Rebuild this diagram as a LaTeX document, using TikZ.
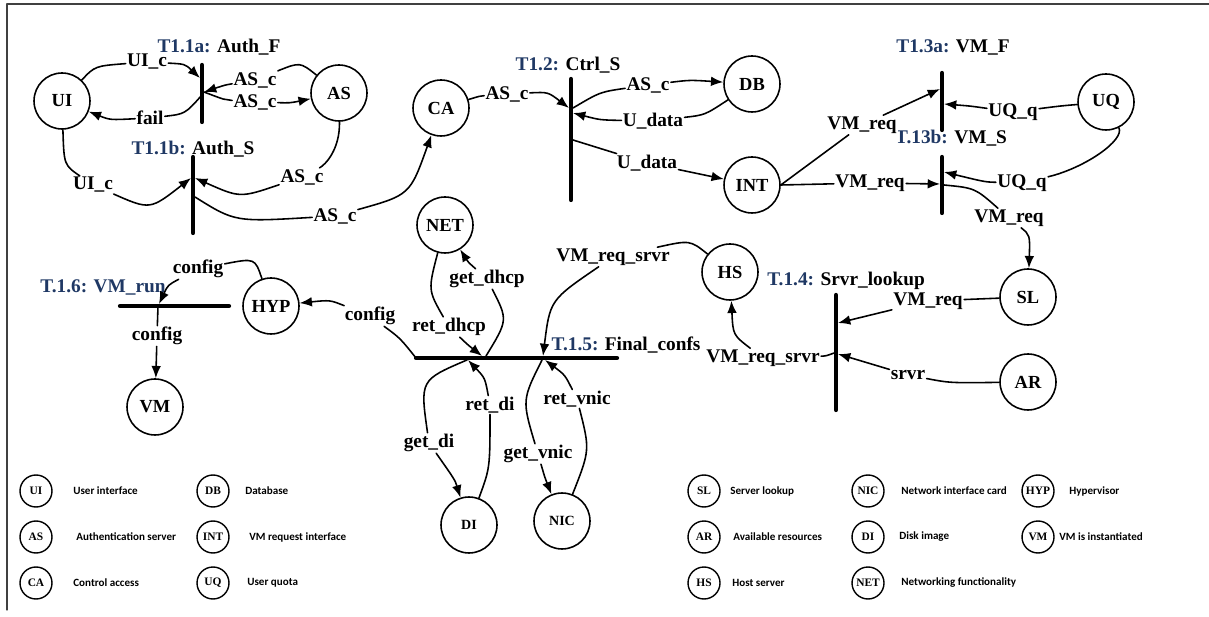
\documentclass[tikz,border=0pt]{standalone}
\usepackage{fontspec}
\setmainfont{Liberation Serif}[BoldFont={Liberation Serif Bold}]
\newfontfamily\legendfont{Carlito}[BoldFont={Carlito Bold}]
\usetikzlibrary{arrows.meta}
\definecolor{tblue}{RGB}{31,56,100}

\begin{document}
\begin{tikzpicture}[
        x=0.02cm, y=-0.02cm,
        line cap=round,
        line join=round,
        every node/.style={font=\bfseries\fontsize{11}{12}\selectfont},
        place/.style={circle, draw, line width=0.9pt, minimum size=1.12cm, inner sep=0pt,
            font=\bfseries\fontsize{10.5}{12}\selectfont},
        lbl/.style={fill=white, inner sep=0.6pt},
        bar/.style={line width=2.4pt},
        arc/.style={line width=0.9pt, -{Latex[length=7pt,width=5.5pt]}},
        key/.style={circle, draw, line width=0.8pt, minimum size=0.64cm, inner sep=0pt,
            font=\bfseries\fontsize{6.5}{7}\selectfont},
        keytext/.style={anchor=west, inner sep=0pt, font=\legendfont\bfseries\fontsize{6.3}{8}\selectfont}
    ]
        \useasboundingbox (0,0) rectangle (1209,617);
        % Frame
        \draw[line width=0.6pt, black!75] (1209,4) -- (7,4) -- (7,610);
        % Places
        \node[place] (UI)  at (62,101)   {UI};
        \node[place] (AS)  at (339,93)   {AS};
        \node[place] (CA)  at (441,108)  {CA};
        \node[place] (DB)  at (752,84)   {DB};
        \node[place] (INT) at (752,185)  {INT};
        \node[place] (UQ)  at (1106,102) {UQ};
        \node[place] (SL)  at (1028,297) {SL};
        \node[place] (AR)  at (1028,382) {AR};
        \node[place] (HS)  at (730,272)  {HS};
        \node[place] (NET) at (445,225)  {NET};
        \node[place] (HYP) at (271,306)  {HYP};
        \node[place] (VM)  at (155,407)  {VM};
        \node[place, font=\bfseries\fontsize{8}{9}\selectfont] (DI)  at (469,525) {DI};
        \node[place, font=\bfseries\fontsize{8}{9}\selectfont] (NIC) at (562,521) {NIC};
        % Transitions (bars)
        \coordinate (t11a-top) at (202,65);  \coordinate (t11a-bot) at (202,122);
        \coordinate (t11b-top) at (193,157); \coordinate (t11b-bot) at (193,233);
        \coordinate (t12-top)  at (571,79);  \coordinate (t12-bot)  at (571,200);
        \coordinate (t13a-top) at (942,73);  \coordinate (t13a-bot) at (942,130);
        \coordinate (t13b-top) at (942,157); \coordinate (t13b-bot) at (942,213);
        \coordinate (t14-top)  at (836,295); \coordinate (t14-bot)  at (836,410);
        \coordinate (t15-w)    at (416,358); \coordinate (t15-e)    at (617,358);
        \coordinate (t16-w)    at (120,306); \coordinate (t16-e)    at (229,306);
        \foreach \t in {t11a,t11b,t12,t13a,t13b,t14}{
            \draw[bar] (\t-top) -- (\t-bot);
        }
        \draw[bar] (t15-w) -- (t15-e);
        \draw[bar] (t16-w) -- (t16-e);
        % Transition titles
        \node (n-t11a) at (219,47)  {\textcolor{tblue}{T1.1a:} Auth\_F};
        \node (n-t11b) at (193,149) {\textcolor{tblue}{T1.1b:} Auth\_S};
        \node (n-t12)  at (568,65)  {\textcolor{tblue}{T1.2:} Ctrl\_S};
        \node (n-t13a) at (953,47)  {\textcolor{tblue}{T1.3a:} VM\_F};
        \node (n-t13b) at (951,138) {\textcolor{tblue}{T.13b:} VM\_S};
        \node (n-t14)  at (846,281) {\textcolor{tblue}{T.1.4:} Srvr\_lookup};
        \node (n-t15)  at (626,345) {\textcolor{tblue}{T.1.5:} Final\_confs};
        \node (n-t16)  at (103,287) {\textcolor{tblue}{T.1.6: VM\_run}};
        % Ports on the bars
        \coordinate (t11a-a) at (200,78);
        \coordinate (t11a-b) at (202,95);
        \coordinate (t11a-c) at (204,92);
        \coordinate (t11b-a) at (191,178);
        \coordinate (t11b-b) at (195,178);
        \coordinate (t11b-c) at (195,197);
        \coordinate (t12-a)  at (569,108);
        \coordinate (t12-b)  at (573,108);
        \coordinate (t12-c)  at (573,113);
        \coordinate (t12-d)  at (573,140);
        \coordinate (t13a-a) at (940,89);
        \coordinate (t13a-b) at (944,104);
        \coordinate (t13b-a) at (940,184);
        \coordinate (t13b-b) at (944,172);
        \coordinate (t13b-c) at (944,185);
        \coordinate (t14-a)  at (838,323);
        \coordinate (t14-b)  at (838,354);
        \coordinate (t14-c)  at (834,353);
        \coordinate (t15-a)  at (543,356);
        \coordinate (t15-b)  at (486,356);
        \coordinate (t15-c)  at (482,356);
        \coordinate (t15-d)  at (467,360);
        \coordinate (t15-e2) at (468,360);
        \coordinate (t15-f)  at (542,360);
        \coordinate (t15-g)  at (545,360);
        \coordinate (t16-a)  at (159,304);
        \coordinate (t16-b)  at (158,306);
        % Arc labels
        \node[lbl] (l-uic1) at (147,62)  {UI\_c};
        \node[lbl] (l-fail) at (150,118) {fail};
        \node[lbl] (l-asc1) at (255,80)  {AS\_c};
        \node[lbl] (l-asc2) at (255,102) {AS\_c};
        \node[lbl] (l-uic2) at (93,185)  {UI\_c};
        \node[lbl] (l-asc3) at (302,177) {AS\_c};
        \node[lbl] (l-asc4) at (335,216) {AS\_c};
        \node[lbl] (l-asc5) at (507,94)  {AS\_c};
        \node[lbl] (l-asc6) at (648,85)  {AS\_c};
        \node[lbl] (l-ud1)  at (653,121) {U\_data};
        \node[lbl] (l-ud2)  at (647,163) {U\_data};
        \node[lbl] (l-vm1)  at (862,125) {VM\_req};
        \node[lbl] (l-vm2)  at (870,183) {VM\_req};
        \node[lbl] (l-uq1)  at (1013,112) {UQ\_q};
        \node[lbl] (l-uq2)  at (1022,183) {UQ\_q};
        \node[lbl] (l-vm3)  at (1009,218) {VM\_req};
        \node[lbl] (l-vm4)  at (928,301) {VM\_req};
        \node[lbl] (l-srvr) at (908,375) {srvr};
        \node[lbl] (l-vrs1) at (763,358) {VM\_req\_srvr};
        \node[lbl] (l-vrs2) at (613,257) {VM\_req\_srvr};
        \node[lbl] (l-gd)   at (487,279) {get\_dhcp};
        \node[lbl] (l-rd)   at (449,327) {ret\_dhcp};
        \node[lbl] (l-gdi)  at (429,443) {get\_di};
        \node[lbl] (l-rdi)  at (490,405) {ret\_di};
        \node[lbl] (l-gv)   at (538,454) {get\_vnic};
        \node[lbl] (l-rv)   at (577,399) {ret\_vnic};
        \node[lbl] (l-cf1)  at (370,316) {config};
        \node[lbl] (l-cf2)  at (198,269) {config};
        \node[lbl] (l-cf3)  at (157,336) {config};
        % Authentication
        \draw[arc] (UI) .. controls (95,66) .. (l-uic1) .. controls (185,64) .. (t11a-a);
        \draw[arc] (t11a-b) .. controls (185,114) .. (l-fail) .. controls (110,120) .. (UI);
        \draw[arc] (AS) .. controls (300,62) .. (l-asc1) .. controls (225,85) .. (t11a-c);
        \draw[arc] (t11a-c) .. controls (225,100) .. (l-asc2) .. controls (290,103) .. (AS);
        \draw[arc] (UI) .. controls (64,165) .. (l-uic2) .. controls (150,210) .. (t11b-a);
        \draw[arc] (AS) .. controls (340,150) and (325,165) .. (l-asc3) .. controls (240,198) .. (t11b-b);
        \draw[arc] (t11b-c) .. controls (235,222) .. (l-asc4) .. controls (410,195) .. (CA);
        % Control access
        \draw[arc] (CA) .. controls (480,96) .. (l-asc5) .. controls (548,92) .. (t12-a);
        \draw[arc] (t12-b) .. controls (600,92) .. (l-asc6) .. controls (690,80) .. (DB);
        \draw[arc] (DB) .. controls (705,115) .. (l-ud1) .. controls (600,120) .. (t12-c);
        \draw[arc] (t12-d) -- (l-ud2) -- (INT);
        % VM request
        \draw[arc] (INT.east) -- (l-vm1) -- (t13a-a);
        \draw[arc] (INT.east) -- (l-vm2) -- (t13b-a);
        \draw[arc] (UQ) .. controls (1060,106) .. (l-uq1) .. controls (970,106) .. (t13a-b);
        \draw[arc] (UQ) .. controls (1125,140) and (1085,168) .. (l-uq2) .. controls (985,182) .. (t13b-b);
        \draw[arc] (t13b-c) .. controls (975,188) .. (l-vm3) .. controls (1030,235) .. (SL);
        % Server lookup
        \draw[arc] (SL) -- (l-vm4) -- (t14-a);
        \draw[arc] (AR) .. controls (950,383) .. (l-srvr) -- (t14-b);
        \draw[arc] (t14-c) .. controls (826,356) .. (l-vrs1) .. controls (733,335) .. (HS);
        % Final configurations
        \draw[arc] (HS) .. controls (690,240) .. (l-vrs2) .. controls (550,300) .. (t15-a);
        \draw[arc] (t15-b) .. controls (508,320) .. (l-gd) .. controls (468,262) .. (NET);
        \draw[arc] (NET) .. controls (428,290) .. (l-rd) .. controls (468,345) .. (t15-c);
        \draw[arc] (t15-d) .. controls (420,380) .. (l-gdi) .. controls (455,480) .. (DI);
        \draw[arc] (DI) .. controls (490,468) .. (l-rdi) .. controls (485,378) .. (t15-e2);
        \draw[arc] (t15-f) .. controls (522,400) .. (l-gv) .. controls (545,478) .. (NIC);
        \draw[arc] (NIC) .. controls (590,450) .. (l-rv) .. controls (565,375) .. (t15-g);
        % Hypervisor and VM
        \draw[arc] (t15-w) .. controls (400,338) .. (l-cf1) .. controls (330,300) .. (HYP);
        \draw[arc] (HYP) .. controls (255,258) .. (l-cf2) .. controls (168,285) .. (t16-a);
        \draw[arc] (t16-b) -- (l-cf3) -- (VM);
        % Legend
        \foreach \x/\y/\n/\d/\g in {36/491/UI/User interface/37, 36/537/AS/Authentication server/40,
            36/583/CA/Control access/37, 213/491/DB/Database/32, 213/537/INT/VM request interface/36,
            213/583/UQ/User quota/34, 704/491/SL/Server lookup/26, 704/537/AR/Available resources/29,
            704/583/HS/Host server/28, 868/491/NIC/Network interface card/33, 868/537/DI/Disk image/31,
            868/583/NET/Networking functionality/33, 1038/491/HYP/Hypervisor/31,
            1038/537/VM/VM is instantiated/21}{
            \node[key] (k-\n) at (\x,\y) {\n};
            \node[keytext] (kt-\n) at (\x+\g,\y) {\d};
        }
    \end{tikzpicture}
\end{document}
